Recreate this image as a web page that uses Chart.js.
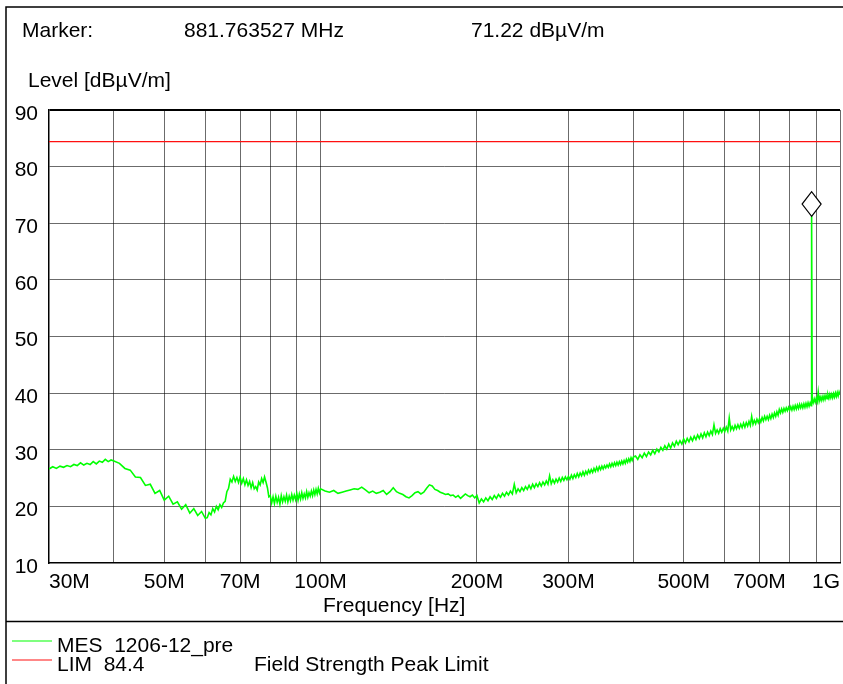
<!DOCTYPE html>
<html>
<head>
<meta charset="utf-8">
<title>Field strength scan</title>
<script src="https://cdn.jsdelivr.net/npm/chart.js@4.4.1/dist/chart.umd.min.js"></script>
<style>
  html, body { margin: 0; padding: 0; background: #fff; }
  #scan { display: block; }
</style>
</head>
<body>
<canvas id="scan" width="843" height="684"></canvas>
<script>
// Receiver sweep: band b starts at bandStartMHz[b] and steps by bandStepMHz[b]
const bandStartMHz = [30, 41, 60.5, 102, 202, 404];
const bandStepMHz = [0.5, 1, 0.5, 2, 2, 4];

// measured level per sweep point, dBµV/m
const levels30to40 = [26.6, 27.0, 26.7, 27.1, 26.9, 27.2, 27.0, 27.4, 27.2, 27.7,
  27.3, 27.6, 27.4, 27.9, 27.5, 28.0, 27.8, 28.3, 27.9, 28.2, 28.0];
const levels40to60 = [27.6, 26.7, 26.4, 25.2, 25.1, 23.7, 23.9, 22.3, 22.8, 21.1,
  21.8, 20.4, 20.8, 19.5, 20.3, 18.8, 19.6, 18.4, 19.1, 17.9];
const levels60to100 = [18.0, 18.9, 18.5, 19.6, 19.0, 20.0, 19.4, 20.3, 19.8, 20.6,
  20.9, 22.6, 23.2, 24.8, 24.3, 25.3, 24.4, 25.1, 24.2, 25.2,
  24.1, 24.9, 23.8, 24.7, 23.7, 24.4, 23.3, 24.2, 23.1, 23.5,
  22.9, 24.3, 23.8, 24.9, 24.2, 25.2, 24.3, 23.3, 21.7, 21.9,
  20.6, 21.7, 20.5, 21.8, 20.7, 21.6, 20.4, 21.9, 20.8, 21.7,
  20.9, 22.0, 20.8, 21.8, 21.0, 22.1, 21.1, 22.0, 21.2, 22.3,
  21.1, 22.2, 21.3, 22.4, 21.4, 22.2, 21.5, 22.6, 21.6, 22.4,
  21.8, 22.7, 21.9, 22.9, 22.1, 23.0, 22.2, 23.2, 22.4, 23.1];
const levels100to200 = [22.7, 22.5, 22.8, 22.3, 22.5, 22.7, 22.9, 23.1, 23.0, 23.4,
  22.9, 22.4, 22.7, 22.3, 22.5, 22.8, 22.1, 22.6, 23.3, 22.6,
  22.3, 22.1, 21.7, 21.5, 21.9, 22.4, 22.6, 22.2, 22.5, 23.2,
  23.8, 23.6, 23.0, 22.8, 22.5, 22.3, 22.1, 22.2, 21.9, 22.0,
  21.6, 21.9, 21.4, 21.8, 22.2, 21.9, 21.7, 22.0, 21.5, 21.9];
const levels200to400 = [20.6, 21.3, 20.8, 21.5, 21.0, 21.7, 21.2, 21.9, 21.4, 22.1,
  21.6, 22.3, 21.8, 22.5, 22.0, 22.7, 22.2, 23.9, 22.4, 23.1,
  22.6, 23.3, 22.8, 23.5, 23.0, 23.7, 23.1, 23.9, 23.3, 24.0,
  23.5, 24.2, 23.6, 24.3, 23.8, 24.5, 23.9, 25.4, 24.0, 24.7,
  24.1, 24.8, 24.3, 25.0, 24.4, 25.1, 24.6, 25.2, 24.7, 25.3,
  24.8, 25.5, 24.9, 25.6, 25.1, 25.8, 25.2, 25.9, 25.4, 26.1,
  25.5, 26.2, 25.7, 26.4, 25.9, 26.5, 26.0, 26.7, 26.2, 26.9,
  26.3, 27.0, 26.5, 27.1, 26.6, 27.2, 26.8, 27.3, 26.9, 27.5,
  27.0, 27.6, 27.1, 27.7, 27.2, 27.8, 27.3, 27.9, 27.4, 28.0,
  27.5, 28.1, 27.6, 28.3, 27.8, 28.4, 27.9, 28.6, 28.1, 28.7];
const levels400to1000 = [28.9, 28.3, 29.1, 28.6, 29.4, 28.8, 29.6, 29.1, 29.9, 29.3,
  30.1, 29.6, 30.4, 29.9, 30.7, 30.1, 31.0, 30.3, 31.2, 30.6,
  31.5, 30.9, 31.6, 31.0, 31.9, 31.2, 32.0, 31.4, 32.2, 31.6,
  32.4, 31.8, 32.6, 32.0, 32.8, 32.1, 33.0, 32.3, 33.1, 32.5,
  33.3, 32.7, 34.4, 32.9, 33.5, 32.9, 33.7, 33.1, 33.8, 33.2,
  34.0, 33.3, 35.6, 33.5, 34.1, 33.5, 34.3, 33.7, 34.4, 33.8,
  34.5, 33.9, 34.7, 34.0, 34.8, 34.2, 35.0, 34.3, 35.9, 34.5,
  35.2, 34.6, 35.4, 34.8, 35.5, 34.9, 35.7, 35.1, 35.9, 35.3,
  35.9, 35.3, 36.1, 35.5, 36.3, 35.7, 36.5, 35.9, 36.7, 36.1,
  37.1, 36.5, 37.2, 36.6, 37.3, 36.8, 37.4, 36.9, 37.5, 37.0,
  37.6, 37.0, 37.7, 37.1, 37.8, 37.2, 37.9, 37.3, 38.0, 37.4,
  38.0, 37.4, 38.1, 37.5, 38.2, 37.6, 38.3, 37.7, 38.3, 37.8,
  38.9, 38.3, 39.0, 38.4, 39.1, 38.5, 40.2, 38.6, 39.3, 38.7,
  39.4, 38.8, 39.5, 38.9, 39.6, 39.0, 39.7, 39.1, 39.8, 39.2,
  39.8, 39.2, 39.9, 39.3, 40.0, 39.4, 40.1, 39.5, 40.2, 39.7];

const markerFreqMHz = 881.763527;
const markerLevel = 71.22;
const limitLevel = 84.4;

const xTickValues = [30, 40, 50, 60, 70, 80, 90, 100, 200, 300, 400, 500, 600, 700, 800, 900, 1000];
const xTickLabels = { 30: '30M', 50: '50M', 70: '70M', 100: '100M', 200: '200M',
  300: '300M', 500: '500M', 700: '700M', 1000: '1G' };

const FONT_FAMILY = '"Liberation Sans", Arial, Helvetica, sans-serif';
const FONT = '21px ' + FONT_FAMILY;
const GRID = 'rgba(0,0,0,0.58)';
const TRACE = '#00ff00';
const LIMIT = '#ff1010';

const bandLevels = [levels30to40, levels40to60, levels60to100, levels100to200, levels200to400, levels400to1000];
const trace = [];
bandLevels.forEach(function (levels, b) {
  levels.forEach(function (lv, i) {
    trace.push({ x: bandStartMHz[b] + i * bandStepMHz[b], y: lv });
  });
});
trace.push({ x: markerFreqMHz, y: markerLevel });
trace.sort(function (a, b) { return a.x - b.x; });

// frame, header texts, legend and the marker diamond
const scanDecor = {
  id: 'scanDecor',
  beforeDraw(chart) {
    const ctx = chart.ctx;
    ctx.save();
    ctx.fillStyle = '#fff';
    ctx.fillRect(0, 0, chart.width, chart.height);
    ctx.restore();
  },
  afterDatasetsDraw(chart) {
    const ctx = chart.ctx;
    const px = chart.scales.x.getPixelForValue(markerFreqMHz);
    const py = chart.scales.y.getPixelForValue(markerLevel);
    ctx.save();
    ctx.beginPath();
    ctx.moveTo(px, py);
    ctx.lineTo(px + 9.5, py - 12.3);
    ctx.lineTo(px, py - 24.6);
    ctx.lineTo(px - 9.5, py - 12.3);
    ctx.closePath();
    ctx.fillStyle = '#fff';
    ctx.fill();
    ctx.strokeStyle = '#000';
    ctx.lineWidth = 1.2;
    ctx.stroke();
    ctx.restore();
  },
  afterDraw(chart) {
    const ctx = chart.ctx;
    const w = chart.width, h = chart.height;
    ctx.save();
    ctx.strokeStyle = '#000';
    ctx.lineWidth = 1.5;
    ctx.beginPath();
    ctx.moveTo(6, h);
    ctx.lineTo(6, 7);
    ctx.lineTo(w, 7);
    ctx.moveTo(6, 621.5);
    ctx.lineTo(w, 621.5);
    ctx.stroke();

    ctx.fillStyle = '#000';
    ctx.font = FONT;
    ctx.textAlign = 'left';
    ctx.textBaseline = 'alphabetic';
    ctx.fillText('Marker:', 22, 37);
    ctx.fillText(markerFreqMHz.toFixed(6) + ' MHz', 184, 37);
    ctx.fillText(markerLevel.toFixed(2) + ' dBµV/m', 471, 37);
    ctx.fillText('Level [dBµV/m]', 28, 87);
    ctx.fillText('Frequency [Hz]', 323, 612);

    // legend rows
    const sets = chart.data.datasets;
    ctx.lineWidth = 1.2;
    ctx.strokeStyle = sets[0].borderColor;
    ctx.beginPath(); ctx.moveTo(12, 641); ctx.lineTo(52, 641); ctx.stroke();
    ctx.strokeStyle = sets[1].borderColor;
    ctx.beginPath(); ctx.moveTo(12, 660); ctx.lineTo(52, 660); ctx.stroke();
    ctx.fillText(sets[0].label, 57, 652);
    ctx.fillText(sets[1].label, 57, 671);
    ctx.fillText('Field Strength Peak Limit', 254, 671);
    ctx.restore();
  }
};

Chart.defaults.font.family = FONT_FAMILY;
Chart.defaults.font.size = 21;
Chart.defaults.color = '#000';

new Chart(document.getElementById('scan'), {
  type: 'line',
  data: {
    datasets: [
      {
        label: 'MES  1206-12_pre',
        data: trace,
        borderColor: TRACE,
        borderWidth: 1.6,
        pointRadius: 0,
        tension: 0
      },
      {
        label: 'LIM  ' + limitLevel.toFixed(1),
        data: [{ x: 30, y: limitLevel }, { x: 1000, y: limitLevel }],
        borderColor: LIMIT,
        borderWidth: 1.3,
        pointRadius: 0
      }
    ]
  },
  options: {
    responsive: false,
    devicePixelRatio: 1,
    animation: false,
    events: [],
    parsing: false,
    layout: { padding: { top: 110, right: 3, left: 0, bottom: 0 } },
    plugins: { legend: { display: false }, tooltip: { enabled: false } },
    scales: {
      x: {
        type: 'logarithmic',
        min: 30,
        max: 1000,
        afterBuildTicks(scale) {
          scale.ticks = xTickValues.map(function (v) { return { value: v }; });
        },
        afterFit(scale) {
          // edge labels sit inside the plot, so no side overhang is needed
          scale.height = 121;
          scale.paddingLeft = 0;
          scale.paddingRight = 0;
        },
        ticks: {
          autoSkip: false,
          maxRotation: 0,
          minRotation: 0,
          align: 'inner',
          padding: 7,
          callback: function (v) { return xTickLabels[v] || ''; }
        },
        grid: {
          drawTicks: false,
          color: function (c) { return c.tick && c.tick.value === 30 ? 'transparent' : GRID; },
          lineWidth: 1
        },
        border: { color: '#000', width: 1.5 }
      },
      y: {
        min: 10,
        max: 90,
        afterFit(scale) { scale.width = 49; },
        ticks: { stepSize: 10, padding: 11, labelOffset: 4 },
        grid: {
          drawTicks: false,
          color: function (c) {
            if (!c.tick) return GRID;
            if (c.tick.value === 10) return 'transparent';
            return c.tick.value === 90 ? '#000' : GRID;
          },
          lineWidth: function (c) { return c.tick && c.tick.value === 90 ? 2 : 1; }
        },
        border: { color: '#000', width: 1.5 }
      }
    }
  },
  plugins: [scanDecor]
});
</script>
</body>
</html>
